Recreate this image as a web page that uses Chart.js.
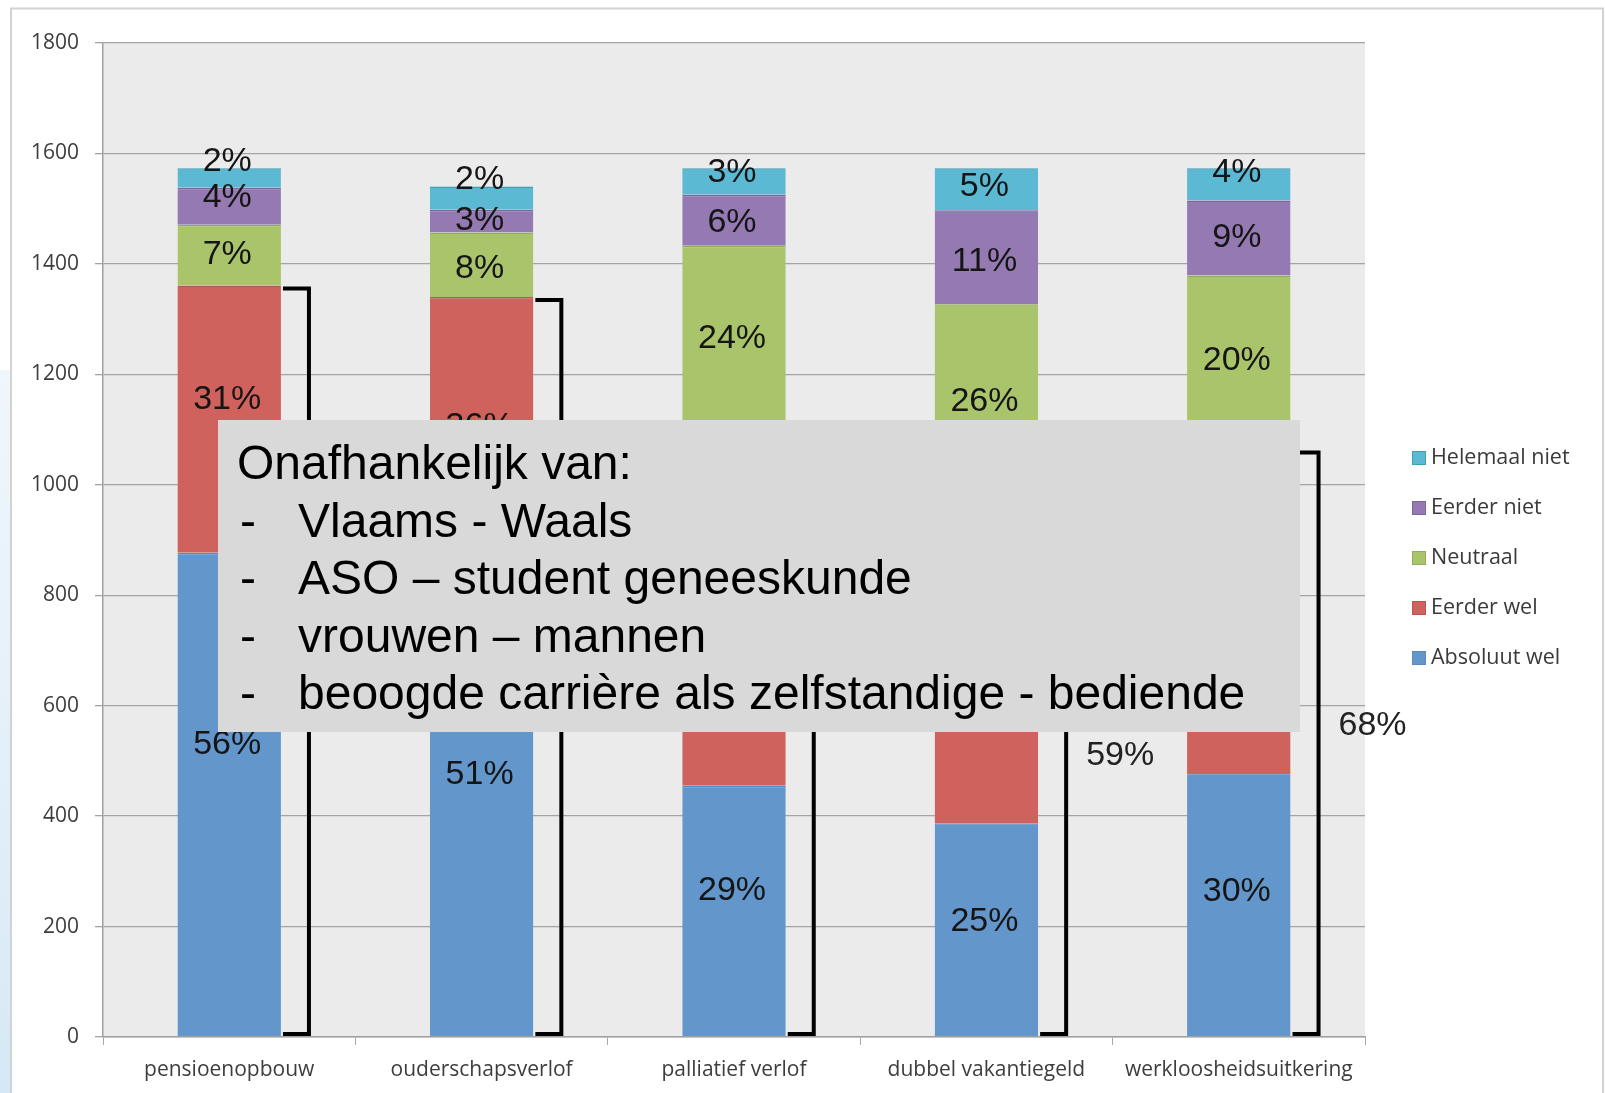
<!DOCTYPE html>
<html>
<head>
<meta charset="utf-8">
<script src="https://cdn.jsdelivr.net/npm/chart.js@4.4.1/dist/chart.umd.min.js"></script>
<style>
  html, body { margin: 0; padding: 0; background: #fff; }
  #wrap { width: 1605px; height: 1093px; }
</style>
</head>
<body>
<div id="wrap"><canvas id="chart" width="1605" height="1093"></canvas></div>
<script>
// categories and stacked values (number of respondents)
const categories = ['pensioenopbouw', 'ouderschapsverlof', 'palliatief verlof', 'dubbel vakantiegeld', 'werkloosheidsuitkering'];

const absoluutWel  = [877, 785, 455, 387, 478];
const eerderWel    = [484, 555, 600, 531, 586];
const neutraal     = [110, 117, 378, 409, 315];
const eerderNiet   = [67, 41, 92, 170, 136];
const helemaalNiet = [35, 42, 48, 76, 58];

// percentage labels printed in the segments
const absoluutWelPct  = ['56%', '51%', '29%', '25%', '30%'];
const eerderWelPct    = ['31%', '36%', '38%', '34%', '37%'];
const neutraalPct     = ['7%', '8%', '24%', '26%', '20%'];
const eerderNietPct   = ['4%', '3%', '6%', '11%', '9%'];
const helemaalNietPct = ['2%', '2%', '3%', '5%', '4%'];

// "absoluut wel + eerder wel" shown next to the brackets
const bracketPct = ['87%', '87%', '67%', '59%', '68%'];

const yMax = 1800;
const yStep = 200;

const noteTitle = 'Onafhankelijk van:';
const noteItems = ['Vlaams - Waals', 'ASO \u2013 student geneeskunde', 'vrouwen \u2013 mannen', 'beoogde carri\u00e8re als zelfstandige - bediende'];

// small vertical nudges (px) so labels sit where the slide had them
const labelShift = [
  [-50, -45, -20, -8, -13],
  [-19, -24, 0, 0, 0],
  [0, 4, -11, -16, -2],
  [-9, 0, 2, 4, 0],
  [-16, -19, -9, -3, -12]
];
const bracketShift = [-28, -28, -28, -28, -18];

const axisFont = { family: 'Open Sans', size: 21 };
const textGray = '#3d3d3d';

const datasets = [
  { label: 'Absoluut wel', data: absoluutWel, pct: absoluutWelPct, backgroundColor: '#6396ca', borderColor: '#5a8bbd' },
  { label: 'Eerder wel', data: eerderWel, pct: eerderWelPct, backgroundColor: '#cf625d', borderColor: '#b85550' },
  { label: 'Neutraal', data: neutraal, pct: neutraalPct, backgroundColor: '#a9c46b', borderColor: '#92ad57' },
  { label: 'Eerder niet', data: eerderNiet, pct: eerderNietPct, backgroundColor: '#9479b3', borderColor: '#7f659d' },
  { label: 'Helemaal niet', data: helemaalNiet, pct: helemaalNietPct, backgroundColor: '#5cb9d3', borderColor: '#3f9fb9' }
];

const sheetPlugin = {
  id: 'sheet',
  beforeDraw(chart) {
    const { ctx, chartArea: a } = chart;
    ctx.save();
    ctx.fillStyle = '#ffffff';
    ctx.fillRect(0, 0, chart.width, chart.height);
    // faint slide decoration on the far left
    const g = ctx.createLinearGradient(0, 370, 0, 1093);
    g.addColorStop(0, 'rgba(225,238,248,0.5)');
    g.addColorStop(1, 'rgba(214,232,246,1)');
    ctx.fillStyle = g;
    ctx.fillRect(0, 370, 10, 723);
    // chart frame
    ctx.strokeStyle = '#d2d2d2';
    ctx.lineWidth = 2;
    ctx.strokeRect(11, 8.5, chart.width - 13, chart.height + 10);
    // plot background
    ctx.fillStyle = '#ebebeb';
    ctx.fillRect(a.left, a.top, a.right - a.left, a.bottom - a.top);
    ctx.restore();
  },
  afterDatasetsDraw(chart) {
    const { ctx, scales } = chart;
    const y = scales.y;
    ctx.save();

    // segment labels
    ctx.font = '34px "Liberation Sans", Arial, sans-serif';
    ctx.fillStyle = '#151515';
    ctx.textAlign = 'center';
    ctx.textBaseline = 'middle';
    chart.data.datasets.forEach((ds, d) => {
      chart.getDatasetMeta(d).data.forEach((el, i) => {
        const cy = (el.y + el.base) / 2 + labelShift[d][i];
        ctx.fillText(ds.pct[i], el.x - 2, cy);
      });
    });

    // brackets around absoluut wel + eerder wel
    const base = chart.getDatasetMeta(0).data;
    const wel = chart.getDatasetMeta(1).data;
    ctx.strokeStyle = '#000';
    ctx.lineWidth = 4;
    ctx.lineJoin = 'miter';
    ctx.fillStyle = '#222';
    ctx.textAlign = 'left';
    base.forEach((el, i) => {
      const x0 = el.x + el.width / 2 + 2;
      const xb = el.x + el.width / 2 + 28;
      const top = wel[i].y + 3;
      const bot = y.getPixelForValue(0) - 3;
      ctx.beginPath();
      ctx.moveTo(x0, top);
      ctx.lineTo(xb, top);
      ctx.lineTo(xb, bot);
      ctx.lineTo(x0, bot);
      ctx.stroke();
      ctx.fillText(bracketPct[i], xb + 20, (top + bot) / 2 + bracketShift[i]);
    });

    // note box laid over the chart
    ctx.fillStyle = '#d9d9d9';
    ctx.fillRect(218, 420, 1082, 312);
    ctx.fillStyle = '#000';
    ctx.font = '48px "Liberation Sans", Arial, sans-serif';
    ctx.textBaseline = 'alphabetic';
    ctx.fillText(noteTitle, 237, 479);
    noteItems.forEach((t, k) => {
      const by = 479 + 57.5 * (k + 1);
      ctx.fillText('-', 240, by);
      ctx.fillText(t, 298, by);
    });

    // legend (top to bottom = reverse stacking order)
    ctx.font = '21.5px "Open Sans", sans-serif';
    ctx.textBaseline = 'middle';
    const items = chart.data.datasets.slice().reverse();
    items.forEach((ds, k) => {
      const cy = 458 + 50 * k;
      ctx.fillStyle = ds.backgroundColor;
      ctx.fillRect(1412, cy - 7, 14, 14);
      ctx.strokeStyle = ds.borderColor;
      ctx.lineWidth = 1;
      ctx.strokeRect(1412.5, cy - 6.5, 13, 13);
      ctx.fillStyle = '#3a3a3a';
      ctx.fillText(ds.label, 1431, cy);
    });
    ctx.restore();
  }
};

new Chart(document.getElementById('chart'), {
  type: 'bar',
  data: {
    labels: categories,
    datasets: datasets.map(ds => ({
      label: ds.label,
      data: ds.data,
      pct: ds.pct,
      backgroundColor: ds.backgroundColor,
      borderColor: ds.borderColor,
      borderWidth: { top: 1.5, bottom: 0, left: 0, right: 0 },
      borderSkipped: false,
      categoryPercentage: 1,
      barPercentage: 0.41
    }))
  },
  options: {
    responsive: false,
    animation: false,
    devicePixelRatio: 1,
    layout: { padding: { top: 43, right: 240, bottom: 0, left: 0 } },
    plugins: { legend: { display: false }, tooltip: { enabled: false } },
    scales: {
      x: {
        stacked: true,
        afterFit: s => { s.height = 56; },
        grid: { drawOnChartArea: false, drawTicks: true, tickLength: 8, color: '#a8a8a8', offset: true },
        border: { color: '#a0a0a0', width: 1.5 },
        ticks: { font: axisFont, color: textGray, padding: 12, maxRotation: 0, autoSkip: false }
      },
      y: {
        stacked: true,
        min: 0,
        max: yMax,
        afterFit: s => { s.width = 103; },
        grid: { color: '#a4a4a4', lineWidth: 1.3, tickLength: 8 },
        border: { color: '#a0a0a0', width: 1.5 },
        ticks: { stepSize: yStep, font: axisFont, color: textGray, padding: 16, callback: v => String(v) }
      }
    }
  },
  plugins: [sheetPlugin]
});
</script>
</body>
</html>
